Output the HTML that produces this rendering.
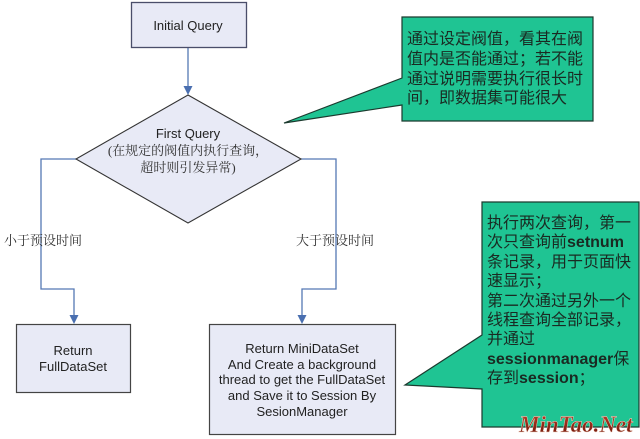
<!DOCTYPE html>
<html><head><meta charset="utf-8"><style>
html,body{margin:0;padding:0;background:#fff;}
svg{display:block;}
.en{font-family:"Liberation Sans",Arial,sans-serif;font-size:13px;fill:#222;}
.cjs{font-family:"Liberation Serif","Noto Serif CJK SC",serif;font-size:13px;fill:#333;}
.cn{font-family:"Liberation Sans","Noto Sans CJK SC",sans-serif;font-size:16px;fill:#1a2a22;}
</style></head><body>
<svg width="640" height="439" viewBox="0 0 640 439" xmlns="http://www.w3.org/2000/svg">
<defs>
<linearGradient id="wm" x1="0" y1="0" x2="0" y2="1">
<stop offset="0" stop-color="#c0402a"/><stop offset="1" stop-color="#6a1408"/>
</linearGradient>
</defs>
<rect x="0" y="0" width="640" height="439" fill="#fff"/>
<!-- connectors -->
<g stroke="#5578b4" stroke-width="1.3" fill="none">
<line x1="188" y1="48" x2="188" y2="87"/>
<polyline points="76,159 41,159 41,289 74,289 74,316"/>
<polyline points="301,159 336,159 336,289 302,289 302,316"/>
</g>
<g fill="#4a6fb0">
<polygon points="183.5,86 192.5,86 188,95"/>
<polygon points="69.5,315 78.5,315 74,324"/>
<polygon points="297.5,315 306.5,315 302,324"/>
</g>
<!-- Initial Query -->
<rect x="131.5" y="2.5" width="115" height="45" fill="#e8eaf6" stroke="#4a4e6a" stroke-width="1.3"/>
<text class="en" x="188" y="30" text-anchor="middle">Initial Query</text>
<!-- diamond -->
<polygon points="188,95 301,159 188,223 76,159" fill="#e8eaf6" stroke="#333" stroke-width="1.1"/>
<text class="en" x="188" y="138" text-anchor="middle">First Query</text>
<text class="cjs" x="188" y="155" text-anchor="middle">(在规定的阀值内执行查询，</text>
<text class="cjs" x="188" y="172" text-anchor="middle">超时则引发异常)</text>
<!-- labels -->
<text class="cjs" x="4" y="245">小于预设时间</text>
<text class="cjs" x="296" y="245">大于预设时间</text>
<!-- left box -->
<rect x="16.5" y="324.5" width="114" height="68" fill="#e8eaf6" stroke="#444" stroke-width="1.2"/>
<text class="en" x="73" y="355" text-anchor="middle">Return</text>
<text class="en" x="73" y="371" text-anchor="middle">FullDataSet</text>
<!-- right box -->
<rect x="209.5" y="324.5" width="186" height="110" fill="#e8eaf6" stroke="#444" stroke-width="1.2"/>
<text class="en" x="302" y="353" text-anchor="middle">Return MiniDataSet</text>
<text class="en" x="302" y="369" text-anchor="middle">And Create a background</text>
<text class="en" x="302" y="384" text-anchor="middle">thread to get the FullDataSet</text>
<text class="en" x="302" y="400" text-anchor="middle">and Save it to Session By</text>
<text class="en" x="302" y="416" text-anchor="middle">SesionManager</text>
<!-- callout 1 -->
<polygon points="402,17 593,17 593,121 402,121 402,105 284,123 402,78" fill="#1fc493" stroke="#1b3a2e" stroke-width="1.2"/>
<text class="cn" x="407" y="44">通过设定阀值，看其在阀</text>
<text class="cn" x="407" y="64">值内是否能通过；若不能</text>
<text class="cn" x="407" y="84">通过说明需要执行很长时</text>
<text class="cn" x="407" y="103">间，即数据集可能很大</text>
<!-- callout 2 -->
<polygon points="482,202 639,202 639,427 482,427 482,389 405,385 482,335" fill="#1fc493" stroke="#1b3a2e" stroke-width="1.2"/>
<text class="cn" x="487" y="228">执行两次查询，第一</text>
<text class="cn" x="487" y="247">次只查询前<tspan font-weight="bold">setnum</tspan></text>
<text class="cn" x="487" y="267">条记录，用于页面快</text>
<text class="cn" x="487" y="286">速显示；</text>
<text class="cn" x="487" y="306">第二次通过另外一个</text>
<text class="cn" x="487" y="325">线程查询全部记录，</text>
<text class="cn" x="487" y="344">并通过</text>
<text class="cn" x="487" y="364"><tspan font-weight="bold">sessionmanager</tspan>保</text>
<text class="cn" x="487" y="383">存到<tspan font-weight="bold">session</tspan>；</text>
<!-- watermark -->
<text x="519" y="432" font-family="'Liberation Serif',serif" font-style="italic" font-weight="bold" font-size="23" fill="url(#wm)" stroke="#f4d8c8" stroke-width="0.4">MinTao.Net</text>
</svg>
</body></html>
